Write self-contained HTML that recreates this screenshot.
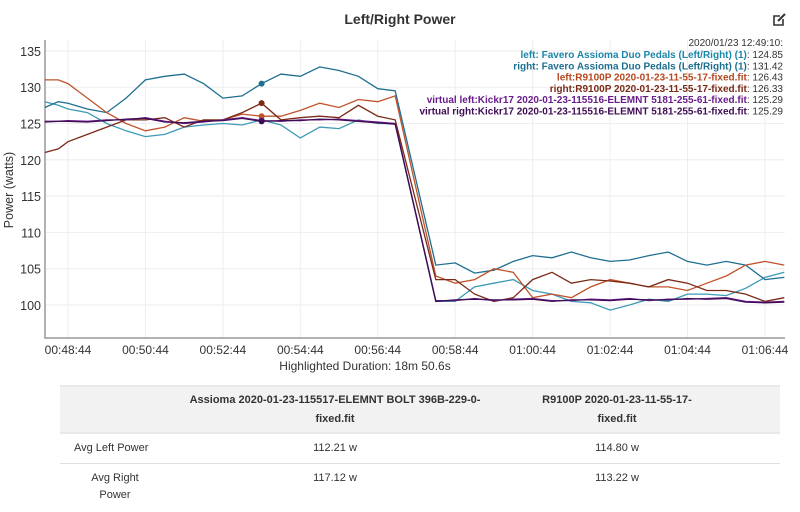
<!DOCTYPE html>
<html><head><meta charset="utf-8"><style>
body{margin:0;width:800px;height:512px;background:#fff;font-family:"Liberation Sans",sans-serif;overflow:hidden;position:relative}
#title{position:absolute;top:11px;left:0;width:800px;text-align:center;font-weight:bold;font-size:14px;color:#333}
table{position:absolute;left:60px;top:385px;width:720px;border-collapse:collapse;font-size:11px;color:#333;table-layout:fixed}
th{background:#f2f2f2;font-weight:bold;padding:0 4px;height:45px;line-height:19px;border-top:2px solid #e8e8e8;border-bottom:2px solid #e8e8e8}
td{text-align:center;padding:6px 4px 0;border-bottom:1px solid #e0e0e0;line-height:17px;vertical-align:top}
</style></head><body>
<div id="title">Left/Right Power</div>
<svg id="chart" width="800" height="380" style="position:absolute;left:0;top:0"></svg>
<table>
<colgroup><col style="width:110px"><col style="width:330px"><col style="width:280px"></colgroup>
<tr><th></th><th>Assioma 2020-01-23-115517-ELEMNT BOLT 396B-229-0-<br>fixed.fit</th><th style="padding-right:50px">R9100P 2020-01-23-11-55-17-<br>fixed.fit</th></tr>
<tr style="height:30px"><td style="text-align:left;padding-left:14px;white-space:nowrap">Avg Left Power</td><td>112.21 w</td><td style="padding-right:50px">114.80 w</td></tr>
<tr style="height:42px"><td style="border-bottom:none">Avg Right<br>Power</td><td style="border-bottom:none">117.12 w</td><td style="border-bottom:none;padding-right:50px">113.22 w</td></tr>
</table>
<script>
const times=[-0.6,-0.25,0,0.5,1,1.5,2,2.5,3,3.5,4,4.5,5,5.5,6,6.5,7,7.5,8,8.45,9.5,10,10.5,11,11.5,12,12.5,13,13.5,14,14.5,15,15.5,16,16.5,17,17.5,18,18.5];
const rightFavero=[127.2,128,127.8,127,126.5,128.5,131,131.5,131.8,130.5,128.5,128.8,130.5,131.8,131.5,132.8,132.3,131.5,129.8,129.5,105.5,105.8,104.4,104.8,106,106.8,106.5,107.3,106.5,106,106.2,106.8,107.3,106,105.5,106,105.5,103.5,103.8];
const leftFavero=[128,127.5,127,126.5,125,124,123.2,123.5,124.5,124.8,125,124.8,125.5,124.8,123,124.5,124.3,125.5,125,125,100.5,100.5,102.5,103,103.5,102,101.5,100.5,100.3,99.3,100,100.8,100.5,101.5,101.5,101.3,102.3,103.8,104.5];
const leftR9100=[131,131,130.5,128.5,126.5,125,124,124.5,125.8,125.3,125.5,126.3,126,126,126.8,127.8,127.2,128.3,128,128.8,104,103,103.5,105,104.5,101,101.5,101,102.5,103.5,103,102.5,102.5,102,103,104,105.5,106,105.5];
const rightR9100=[121,121.5,122.5,123.5,124.5,125.5,125.5,125.8,124.5,125.5,125.5,126.5,127.8,125.5,125.8,126,125.8,127.5,126,125.5,103.5,103.5,101.5,100.5,101,103.5,104.5,103,103.5,103.3,103,102.5,103.5,103,102,102,101.5,100.5,101];
const virtLeft=[125.3,125.3,125.4,125.3,125.5,125.5,125.8,125.3,125,125.2,125.5,125.8,125.4,125.3,125.5,125.5,125.6,125.4,125.2,125,100.6,100.6,100.9,100.6,100.8,100.9,100.6,100.6,100.8,100.7,100.9,100.6,100.8,100.8,100.9,101,100.5,100.4,100.5];
const virtRight=[125.2,125.3,125.3,125.2,125.4,125.6,125.7,125.2,125.1,125.3,125.4,125.7,125.3,125.4,125.4,125.6,125.5,125.3,125.1,124.9,100.5,100.7,100.8,100.7,100.7,100.8,100.5,100.7,100.7,100.6,100.8,100.7,100.7,100.9,100.8,100.9,100.4,100.3,100.4];
const yTicks=[100,105,110,115,120,125,130,135];
const xTicks=[0,2,4,6,8,10,12,14,16,18];
const xTickLabels=["00:48:44","00:50:44","00:52:44","00:54:44","00:56:44","00:58:44","01:00:44","01:02:44","01:04:44","01:06:44"];
const legendLabels=["left: Favero Assioma Duo Pedals (Left/Right) (1)","right: Favero Assioma Duo Pedals (Left/Right) (1)","left:R9100P 2020-01-23-11-55-17-fixed.fit","right:R9100P 2020-01-23-11-55-17-fixed.fit","virtual left:Kickr17 2020-01-23-115516-ELEMNT 5181-255-61-fixed.fit","virtual right:Kickr17 2020-01-23-115516-ELEMNT 5181-255-61-fixed.fit"];
const legendValues=["124.85","131.42","126.43","126.33","125.29","125.29"];
const hoverT=5;

const NS="http://www.w3.org/2000/svg";
const svg=document.getElementById('chart');
const X0=45,X1=785,Y0=40,Y1=338;
const xs=t=>68+t*38.72;
const ys=v=>305-(v-100)*7.26;
function mk(tag,a,p){const e=document.createElementNS(NS,tag);for(const k in a)e.setAttribute(k,a[k]);(p||svg).appendChild(e);return e;}
yTicks.forEach(v=>{
  const g=mk('line',{x1:X0,x2:X1,y1:ys(v),y2:ys(v),stroke:'#eee'});
  
  
  const t=mk('text',{x:41,y:ys(v)+5,'text-anchor':'end','font-size':'12.5',fill:'#333'});
  t.textContent=v;
  
  
});
xTicks.forEach((m,i)=>{
  const g=mk('line',{x1:xs(m),x2:xs(m),y1:Y0,y2:Y1,stroke:'#eee'});
  
  
  const t=mk('text',{x:xs(m),y:354,'text-anchor':'middle','font-size':'12',fill:'#333'});
  t.textContent=xTickLabels[i];
  
  
});
const ax=mk('path',{d:`M${X0},${Y0}V${Y1}H${X1}`,stroke:'#999','stroke-width':1.5,fill:'none'});


const yt=mk('text',{x:13,y:190,transform:'rotate(-90 13 190)','text-anchor':'middle','font-size':'12.5',fill:'#333'});
yt.textContent='Power (watts)';


const xt=mk('text',{x:365,y:370,'text-anchor':'middle','font-size':'12',fill:'#333'});
xt.textContent='Highlighted Duration: 18m 50.6s';


const series=[[leftFavero,'#3d9bb5','left-favero-line'],[rightFavero,'#1e6f8f','right-favero-line'],[leftR9100,'#c0532b','left-r9100p-line'],[rightR9100,'#7b2a17','right-r9100p-line'],[virtLeft,'#6a1d8a','virtual-left-line'],[virtRight,'#3f0c55','virtual-right-line']];
const colors=['#1a86a8','#1e6f8f','#b5481f','#7b2a17','#6a1d8a','#3f0c55'];
series.forEach(([vals,c,n])=>{
  const d=vals.map((v,i)=>(i?'L':'M')+xs(times[i]).toFixed(1)+','+ys(v).toFixed(1)).join('');
  const p=mk('path',{d:d,stroke:c,'stroke-width':1.3,fill:'none'});
  
  
  const i=times.indexOf(hoverT);
  const dot=mk('circle',{cx:xs(hoverT),cy:ys(vals[i]),r:3,fill:c});
  
  
});
const ts=mk('text',{x:783,y:46,'text-anchor':'end','font-size':'10',fill:'#333'});
ts.textContent='2020/01/23 12:49:10:';


legendLabels.forEach((l,i)=>{
  const t=mk('text',{x:783,y:58+i*11.3,'text-anchor':'end','font-size':'10'});
  const a=mk('tspan',{fill:colors[i],'font-weight':'bold'},t);a.textContent=l;
  const b=mk('tspan',{fill:'#333'},t);b.textContent=': '+legendValues[i];
  
  
});
const ic=mk('g',{stroke:'#333','stroke-width':1.6,fill:'none'});


mk('path',{d:'M783,19v6h-9v-9h6'},ic);
mk('path',{d:'M778,21l7-7',stroke:'#333','stroke-width':2},ic);
</script>
</body></html>
